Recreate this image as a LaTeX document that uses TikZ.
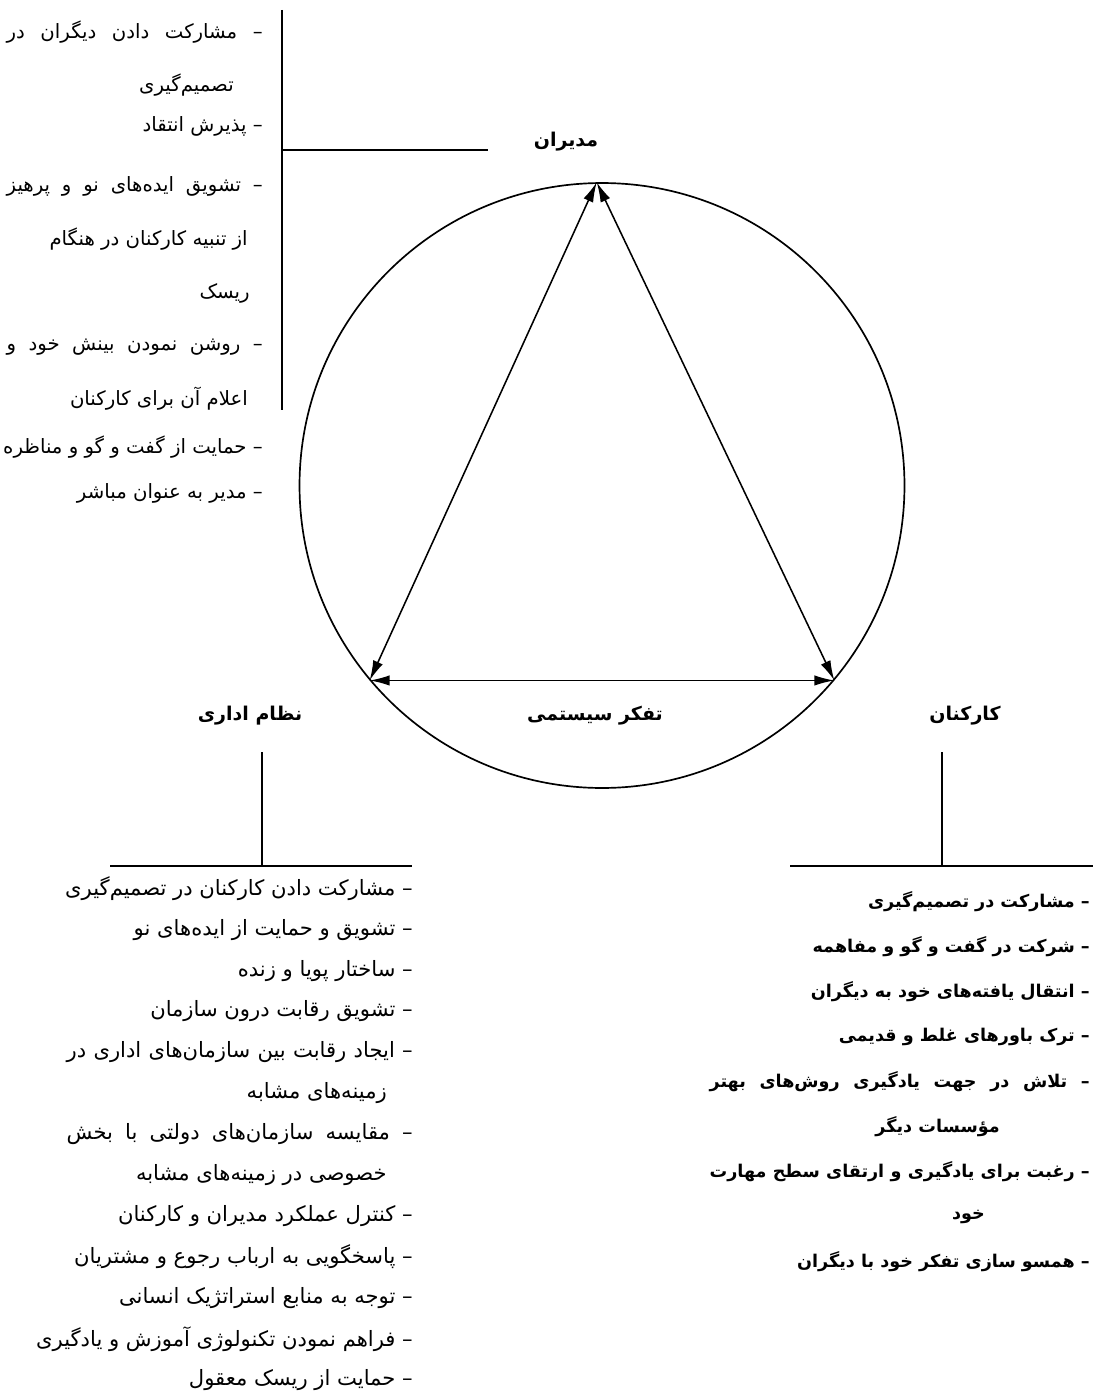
\documentclass[tikz,border=0pt]{standalone}
\usepackage{fontspec}
\usetikzlibrary{arrows.meta}
\TeXXeTstate=1
\newfontfamily\farsi[Script=Arabic]{DejaVu Sans}
\tikzset{
  itema/.style={anchor=east, inner sep=0pt, font=\farsi\fontsize{14}{16}\selectfont},
  itemn/.style={anchor=east, inner sep=0pt, font=\farsi\fontsize{15}{17}\selectfont},
  itemk/.style={anchor=east, inner sep=0pt, font=\farsi\bfseries\fontsize{12.5}{15}\selectfont},
  title/.style={inner sep=0pt, font=\farsi\bfseries\fontsize{13.5}{16}\selectfont},
  bar/.style={line width=1.2pt},
  link/.style={{Latex[length=5mm,width=2.6mm]}-{Latex[length=5mm,width=2.6mm]}, line width=1.1pt}
}
\begin{document}
\begin{tikzpicture}[x=0.025cm,y=-0.025cm]
\useasboundingbox (0,0) rectangle (1095,1400);
%دایره
\node (ring) [circle, draw, line width=1.2pt, minimum size=15.12cm, inner sep=0pt] at (602,485.5) {};
\coordinate (top) at (ring.91);
\coordinate (bl) at (ring.220);
\coordinate (br) at (ring.320);
\draw[link] (top)--(bl);
\draw[link] (top)--(br);
\draw[link] (bl)--(br);
%عنوان‌ها
\node[title] (mud) at (566,142) {\beginR مدیران\endR};
\node[title] (niz) at (250,716) {\beginR نظام اداری\endR};
\node[title] (taf) at (595,716) {\beginR تفکر سیستمی\endR};
\node[title] (kar) at (965,716) {\beginR کارکنان\endR};
%خط‌ها
\coordinate (m0) at (282,10);
\coordinate (m1) at (282,410);
\coordinate (m2) at (282,150);
\coordinate (m3) at (488,150);
\draw[bar] (m0)--(m1);
\draw[bar] (m2)--(m3);
\coordinate (n0) at (262,752);
\coordinate (n1) at (262,866);
\coordinate (n2) at (110,866);
\coordinate (n3) at (412,866);
\draw[bar] (n0)--(n1);
\draw[bar] (n2)--(n3);
\coordinate (k0) at (942,752);
\coordinate (k1) at (942,866);
\coordinate (k2) at (790,866);
\coordinate (k3) at (1093,866);
\draw[bar] (k0)--(k1);
\draw[bar] (k2)--(k3);
%مدیران
\node[itema] (ma) at (263,32) {\hbox to 6.4cm{\beginR – مشارکت دادن دیگران در\endR}};
\node[itema] (mb) at (234,85) {\beginR تصمیم‌گیری\endR};
\node[itema] (mc) at (263,126) {\beginR – پذیرش انتقاد\endR};
\node[itema] (md) at (263,186) {\hbox to 6.4cm{\beginR – تشویق ایده‌های نو و پرهیز\endR}};
\node[itema] (me) at (248,239) {\beginR از تنبیه کارکنان در هنگام\endR};
\node[itema] (mf) at (250,293) {\beginR ریسک\endR};
\node[itema] (mg) at (263,347) {\hbox to 6.4cm{\beginR – روشن نمودن بینش خود و\endR}};
\node[itema] (mh) at (248,399) {\beginR اعلام آن برای کارکنان\endR};
\node[itema] (mi) at (263,447) {\beginR – حمایت از گفت و گو و مناظره\endR};
\node[itema] (mj) at (263,493) {\beginR – مدیر به عنوان مباشر\endR};
%نظام اداری
\node[itemn] (na) at (413,889) {\beginR – مشارکت دادن کارکنان در تصمیم‌گیری\endR};
\node[itemn] (nb) at (413,930) {\beginR – تشویق و حمایت از ایده‌های نو\endR};
\node[itemn] (nc) at (413,971) {\beginR – ساختار پویا و زنده\endR};
\node[itemn] (nd) at (413,1011) {\beginR – تشویق رقابت درون سازمان\endR};
\node[itemn] (ne) at (413,1052) {\hbox to 8.65cm{\beginR – ایجاد رقابت بین سازمان‌های اداری در\endR}};
\node[itemn] (nf) at (387,1093) {\beginR زمینه‌های مشابه\endR};
\node[itemn] (ng) at (413,1134) {\hbox to 8.65cm{\beginR – مقایسه سازمان‌های دولتی با بخش\endR}};
\node[itemn] (nh) at (387,1175) {\beginR خصوصی در زمینه‌های مشابه\endR};
\node[itemn] (ni) at (413,1216) {\beginR – کنترل عملکرد مدیران و کارکنان\endR};
\node[itemn] (nj) at (413,1257) {\beginR – پاسخگویی به ارباب رجوع و مشتریان\endR};
\node[itemn] (nk) at (413,1298) {\beginR – توجه به منابع استراتژیک انسانی\endR};
\node[itemn] (nl) at (413,1339) {\beginR – فراهم نمودن تکنولوژی آموزش و یادگیری\endR};
\node[itemn] (nm) at (413,1380) {\beginR – حمایت از ریسک معقول\endR};
%کارکنان
\node[itemk] (ka) at (1090,902) {\beginR – مشارکت در تصمیم‌گیری\endR};
\node[itemk] (kb) at (1090,947) {\beginR – شرکت در گفت و گو و مفاهمه\endR};
\node[itemk] (kc) at (1090,992) {\beginR – انتقال یافته‌های خود به دیگران\endR};
\node[itemk] (kd) at (1090,1037) {\beginR – ترک باورهای غلط و قدیمی\endR};
\node[itemk] (ke) at (1090,1082) {\hbox to 9.5cm{\beginR – تلاش در جهت یادگیری روش‌های بهتر\endR}};
\node[itemk] (kf) at (1000,1127) {\beginR مؤسسات دیگر\endR};
\node[itemk] (kg) at (1090,1172) {\hbox to 9.5cm{\beginR – رغبت برای یادگیری و ارتقای سطح مهارت\endR}};
\node[itemk] (kh) at (985,1217) {\beginR خود\endR};
\node[itemk] (ki) at (1090,1262) {\beginR – همسو سازی تفکر خود با دیگران\endR};
\end{tikzpicture}
\end{document}
